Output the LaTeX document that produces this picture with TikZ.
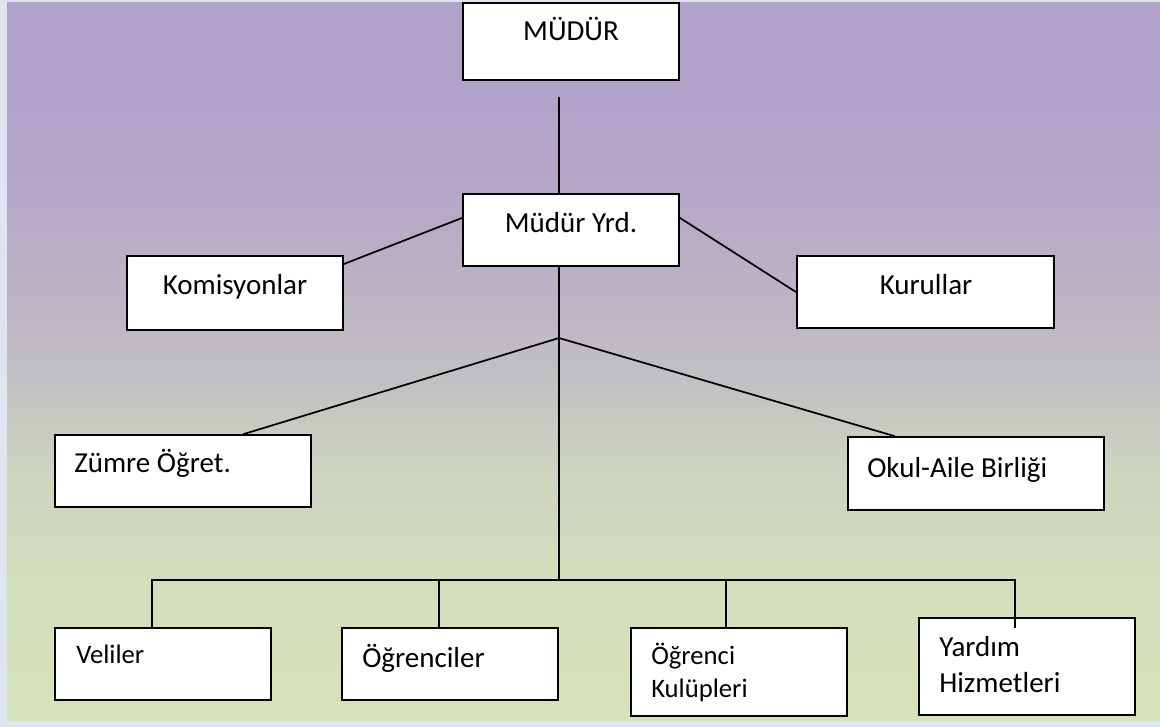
\documentclass[tikz,border=0pt]{standalone}
\usepackage{fontspec}
\setmainfont{Carlito}
\usepackage{tikz}
\usetikzlibrary{calc,fit}
\definecolor{bgtop}{RGB}{177,162,201}
\definecolor{bgupper}{RGB}{182,168,200}
\definecolor{bgmid}{RGB}{192,189,195}
\definecolor{bglower}{RGB}{205,213,191}
\definecolor{bggreen}{RGB}{211,222,188}
\definecolor{bgbot}{RGB}{214,226,186}
\definecolor{frameblue}{RGB}{222,229,241}
\pgfdeclareverticalshading{orgshade}{100bp}{color(0bp)=(bgbot); color(25bp)=(bgbot); color(35bp)=(bggreen); color(42bp)=(bglower); color(50bp)=(bgmid); color(61bp)=(bgupper); color(68bp)=(bgtop); color(100bp)=(bgtop)}
\tikzset{
  box/.style={draw,line width=1.6pt,fill=white,inner sep=0pt},
  conn/.style={line width=1.3pt},
  lbl/.style={inner sep=0pt,anchor=base,font=\fontsize{21.75}{26}\selectfont},
  lblw/.style={lbl,anchor=base west},
  lbls/.style={lblw,font=\fontsize{20}{24}\selectfont}
}

\begin{document}
\begin{tikzpicture}[line cap=rect,line join=miter,x=0.75pt,y=-0.75pt]
  \useasboundingbox (0,0) rectangle (1160,727);
  \fill[frameblue] (0,0) rectangle (1160,727);
  \shade[shading=orgshade] (7,3) rectangle (1160,720);

  % kutular
  \node[box,fit={(463,3) (679,80)}] (mudur) {};
  \node[box,fit={(463,194) (679,266)}] (yrd) {};
  \node[box,fit={(127,256) (343,330)}] (komisyon) {};
  \node[box,fit={(797,256) (1054,328)}] (kurul) {};
  \node[box,fit={(55,435) (311,507)}] (zumre) {};
  \node[box,fit={(848,437) (1104,510)}] (okul) {};
  \node[box,fit={(55,628) (271,700)}] (veli) {};
  \node[box,fit={(342,628) (558,700)}] (ogr) {};
  \node[box,fit={(631,628) (847,716)}] (kulup) {};
  \node[box,fit={(919,618) (1135,715)}] (yardim) {};

  % yazilar
  \node[lbl] (tmudur) at (571,41) {MÜDÜR};
  \node[lbl] (tyrd) at (571,233) {Müdür Yrd.};
  \node[lbl] (tkomisyon) at (235,295) {Komisyonlar};
  \node[lbl] (tkurul) at (926,295) {Kurullar};
  \node[lblw] (tzumre) at (74,472) {Zümre Öğret.};
  \node[lblw] (tokul) at (867,477) {Okul-Aile Birliği};
  \node[lbls] (tveli) at (76,663) {Veliler};
  \node[lblw] (togr) at (362,667) {Öğrenciler};
  \node[lbls] (tkulup1) at (651,664) {Öğrenci};
  \node[lbls] (tkulup2) at (651,697) {Kulüpleri};
  \node[lblw] (tyardim1) at (939,656) {Yardım};
  \node[lblw] (tyardim2) at (939,692) {Hizmetleri};

  % baglantilar
  \coordinate (top) at (559,98);
  \coordinate (hub) at (559,338);
  \coordinate (bar) at (559,580);
  \draw[conn] (top) -- (top |- yrd.north);
  \draw[conn] ($(komisyon.north east)+(0,9)$) -- ($(yrd.west)+(0,-12)$);
  \draw[conn] ($(yrd.east)+(0,-12)$) -- (kurul.west);
  \draw[conn] (hub |- yrd.south) -- (bar);
  \draw[conn] (hub) -- ($(zumre.north east)+(-68,0)$);
  \draw[conn] (hub) -- ($(okul.north west)+(47,0)$);

  \coordinate (d1) at ($(veli.north)+(-11,0)$);
  \coordinate (d2) at ($(ogr.north)+(-11,0)$);
  \coordinate (d3) at ($(kulup.north)+(-13,0)$);
  \coordinate (d4) at ($(yardim.north)+(-12,10)$);
  \draw[conn] (d1 |- bar) -- (d4 |- bar);
  \foreach \d in {d1,d2,d3,d4}
    \draw[conn] (\d) -- (\d |- bar);
\end{tikzpicture}
\end{document}
